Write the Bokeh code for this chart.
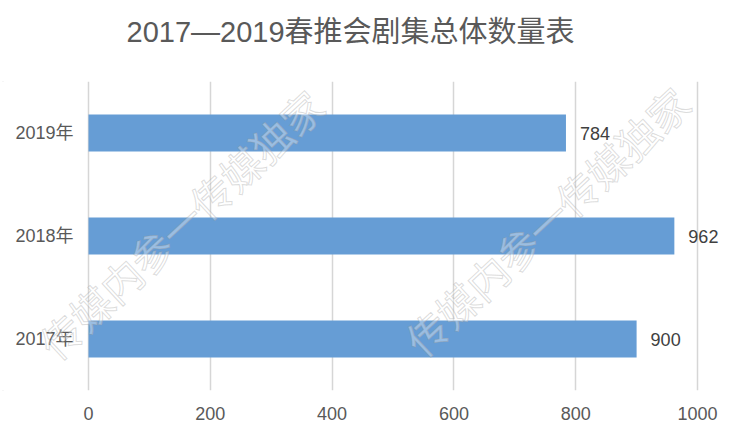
from bokeh.plotting import figure
from bokeh.models import Range1d, FactorRange, FixedTicker, Label, ColumnDataSource
from bokeh.core.properties import value
from bokeh.embed import file_html
from bokeh.resources import INLINE

# ---- data ----
years = ["2017年", "2018年", "2019年"]
counts = [900, 962, 784]
x_ticks = [0, 200, 400, 600, 800, 1000]
title_text = "2017—2019春推会剧集总体数量表"
watermark = "传媒内参一传媒独家"

FONT = "'Liberation Sans', 'Noto Sans CJK SC', sans-serif"

p = figure(width=747, height=446, output_backend="svg", toolbar_location=None,
           x_range=Range1d(-144.5, 1070.6), y_range=FactorRange(factors=years, range_padding=0),
           min_border_left=0, min_border_right=7, min_border_top=81, min_border_bottom=56)
p.outline_line_color = None
p.background_fill_color = "white"
p.border_fill_color = "white"
p.styles = {"outline": "2px solid #d9d9d9", "outline-offset": "-4px"}

# trailing empty line lifts the visible title inside the top border
p.title.text = title_text + "\n "
p.title.text_font_size = "29px"
p.title.text_font = FONT
p.title.text_font_style = "normal"
p.title.text_color = "#595959"
p.title.align = "left"
p.title.offset = 126
p.title.vertical_align = "bottom"
p.title.standoff = 4

src = ColumnDataSource(dict(y=years, v=counts, lab=[str(c) for c in counts], zero=[0, 0, 0]))
p.hbar(y="y", right="v", left=0, height=0.36, source=src, fill_color="#669dd5", line_color=None)
p.text(x="v", y="y", text="lab", source=src, x_offset=14, text_baseline="middle",
       text_align="left", text_font_size="18px", text_color="#404040", text_font=value(FONT))
# category labels (left of the zero line)
p.text(x="zero", y="y", text="y", source=src, x_offset=-15, text_baseline="middle",
       text_align="right", text_font_size="18px", text_color="#595959", text_font=value(FONT))

p.yaxis.visible = False
p.xaxis.ticker = FixedTicker(ticks=x_ticks)
p.xgrid.ticker = FixedTicker(ticks=x_ticks)
p.xgrid.grid_line_color = "#d6d6d6"
p.xgrid.grid_line_width = 1.5
p.ygrid.grid_line_color = None
ax = p.xaxis[0]
ax.axis_line_color = None
ax.major_tick_line_color = None
ax.minor_tick_line_color = None
ax.major_tick_out = 0
ax.major_tick_in = 0
ax.major_label_text_font_size = "18px"
ax.major_label_text_color = "#595959"
ax.major_label_text_font = FONT
ax.major_label_standoff = 16

for (cx, cy) in [(180, 167), (546, 170)]:
    p.add_layout(Label(x=cx, y=cy, x_units="screen", y_units="screen", text=watermark,
                       angle=43, angle_units="deg", text_align="center", text_baseline="middle",
                       text_font_size="41px", text_font="'Noto Sans CJK SC', sans-serif",
                       text_color="#ffffff", text_alpha=0.35, text_outline_color="#9a9a9a"))

open("out.html", "w").write(file_html(p, INLINE))
